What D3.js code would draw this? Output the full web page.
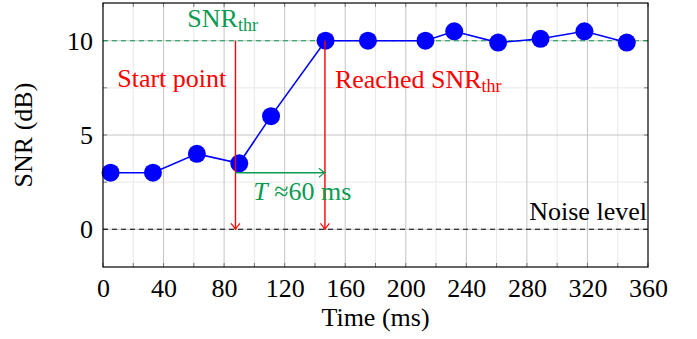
<!DOCTYPE html>
<html>
<head>
<meta charset="utf-8">
<script src="https://cdn.jsdelivr.net/npm/d3@7"></script>
<style>
  body { margin: 0; background: #fff; }
  svg text { font-family: "Liberation Serif", "Times New Roman", serif !important; }
</style>
</head>
<body>
<div id="chart"></div>
<script>
// measured samples
const times = [5, 33, 62, 90, 111, 147, 175, 213, 232, 261, 289, 318, 346];
const snr   = [3, 3, 4, 3.5, 6, 10, 10, 10, 10.5, 9.9, 10.1, 10.5, 9.9];

const xTicks = [0, 40, 80, 120, 160, 200, 240, 280, 320, 360];
const yTicks = [0, 5, 10];
const xMinor = d3.range(20, 360, 40);
const yMinor = [2.5, 7.5];

const threshold = 10;
const noise = 0;
const startT = 87.5;   // start point
const reachT = 146.6;  // reached threshold
const arrowY = 3;      // level of the T arrow

const width  = 697;
const height = 339;
const margin = { top: 3, right: 49, bottom: 72, left: 103 };
const iw = width - margin.left - margin.right;
const ih = height - margin.top - margin.bottom;

const green = '#0a9a50';
const fs = 26;
const serif = '"Liberation Serif", "Times New Roman", serif';

let svg = d3.select('#chart')
    .append('svg')
        .attr('width', width)
        .attr('height', height)
    .append('g')
        .attr('transform', 'translate(' + margin.left + ',' + margin.top + ')');

let defs = svg.append('defs');
function arrowMarker(id, color) {
    defs.append('marker')
        .attr('id', id)
        .attr('viewBox', '-7 -6 8 12')
        .attr('refX', 0).attr('refY', 0)
        .attr('markerWidth', 8).attr('markerHeight', 12)
        .attr('markerUnits', 'userSpaceOnUse')
        .attr('orient', 'auto')
      .append('path')
        .attr('d', 'M-6,-4.5 Q-2,-1 0,0 Q-2,1 -6,4.5')
        .attr('fill', 'none')
        .attr('stroke', color)
        .attr('stroke-width', 1.2);
}
arrowMarker('arrRed', 'red');
arrowMarker('arrGreen', green);

let xScale = d3.scaleLinear().domain([0, 360]).range([0, iw]);
let yScale = d3.scaleLinear().domain([-2, 12]).range([ih, 0]);

// grid
svg.append('g').selectAll('line.xminor')
    .data(xMinor).enter().append('line')
    .attr('x1', d => xScale(d)).attr('x2', d => xScale(d))
    .attr('y1', 0).attr('y2', ih)
    .attr('stroke', '#e8e8e8');
svg.append('g').selectAll('line.yminor')
    .data(yMinor).enter().append('line')
    .attr('y1', d => yScale(d)).attr('y2', d => yScale(d))
    .attr('x1', 0).attr('x2', iw)
    .attr('stroke', '#e8e8e8');
svg.append('g').selectAll('line.xmajor')
    .data(xTicks.slice(1, -1)).enter().append('line')
    .attr('x1', d => xScale(d)).attr('x2', d => xScale(d))
    .attr('y1', 0).attr('y2', ih)
    .attr('stroke', '#c4c4c4');
svg.append('g').selectAll('line.ymajor')
    .data(yTicks).enter().append('line')
    .attr('y1', d => yScale(d)).attr('y2', d => yScale(d))
    .attr('x1', 0).attr('x2', iw)
    .attr('stroke', '#c4c4c4');

// inner ticks on all four sides
const tk = 4;
let ticksG = svg.append('g').attr('stroke', '#777');
xTicks.concat(xMinor).forEach(function (d) {
    ticksG.append('line').attr('x1', xScale(d)).attr('x2', xScale(d)).attr('y1', ih).attr('y2', ih - tk);
    ticksG.append('line').attr('x1', xScale(d)).attr('x2', xScale(d)).attr('y1', 0).attr('y2', tk);
});
yTicks.concat(yMinor).forEach(function (d) {
    ticksG.append('line').attr('y1', yScale(d)).attr('y2', yScale(d)).attr('x1', 0).attr('x2', tk);
    ticksG.append('line').attr('y1', yScale(d)).attr('y2', yScale(d)).attr('x1', iw).attr('x2', iw - tk);
});

// axes labels
let xAxis = d3.axisBottom(xScale).tickValues(xTicks).tickSize(0).tickPadding(12);
svg.append('g')
    .attr('class', 'x axis')
    .attr('transform', 'translate(0,' + ih + ')')
    .attr('font-family', serif)
    .call(xAxis)
    .call(g => g.select('.domain').remove())
    .selectAll('text')
        .attr('font-size', fs)
        .attr('fill', '#000');

let yAxis = d3.axisLeft(yScale).tickValues(yTicks).tickSize(0).tickPadding(10);
svg.append('g')
    .attr('class', 'y axis')
    .attr('font-family', serif)
    .call(yAxis)
    .call(g => g.select('.domain').remove())
    .selectAll('text')
        .attr('font-size', fs)
        .attr('fill', '#000');

svg.append('text')
    .attr('x', iw / 2).attr('y', ih + 59)
    .attr('text-anchor', 'middle')
    .attr('font-family', serif)
    .attr('font-size', fs)
    .text('Time (ms)');

svg.append('text')
    .attr('transform', 'translate(' + (-71) + ',' + (ih / 2) + ') rotate(-90)')
    .attr('text-anchor', 'middle')
    .attr('font-family', serif)
    .attr('font-size', fs)
    .text('SNR (dB)');

// reference lines
svg.append('line')
    .attr('x1', 0).attr('x2', iw)
    .attr('y1', yScale(threshold)).attr('y2', yScale(threshold))
    .attr('stroke', green).attr('stroke-width', 1.1)
    .attr('stroke-dasharray', '5,4');
svg.append('line')
    .attr('x1', 0).attr('x2', iw)
    .attr('y1', yScale(noise)).attr('y2', yScale(noise))
    .attr('stroke', '#000').attr('stroke-width', 1.1)
    .attr('stroke-dasharray', '5,4');

// data line + markers
let line = d3.line()
    .x((d, i) => xScale(times[i]))
    .y(d => yScale(d));
svg.append('path')
    .datum(snr)
    .attr('d', line)
    .attr('fill', 'none')
    .attr('stroke', '#0000ff')
    .attr('stroke-width', 1.6);

svg.selectAll('circle.pt')
    .data(snr)
    .enter()
    .append('circle')
        .attr('cx', (d, i) => xScale(times[i]))
        .attr('cy', d => yScale(d))
        .attr('r', 9)
        .attr('fill', '#0000ff');

// arrows
[startT, reachT].forEach(function (t) {
    svg.append('line')
        .attr('x1', xScale(t)).attr('x2', xScale(t))
        .attr('y1', yScale(threshold)).attr('y2', yScale(noise))
        .attr('stroke', 'red').attr('stroke-width', 1.4)
        .attr('marker-end', 'url(#arrRed)');
});
svg.append('line')
    .attr('x1', xScale(startT)).attr('x2', xScale(reachT))
    .attr('y1', yScale(arrowY)).attr('y2', yScale(arrowY))
    .attr('stroke', green).attr('stroke-width', 1.4)
    .attr('marker-end', 'url(#arrGreen)');

// frame
svg.append('rect')
    .attr('width', iw).attr('height', ih)
    .attr('fill', 'none')
    .attr('stroke', '#000').attr('stroke-width', 1.2);

// annotations
function subLabel(t, v, main, sub, color, anchor) {
    let tx = svg.append('text')
        .attr('x', xScale(t)).attr('y', yScale(v))
        .attr('font-family', serif)
        .attr('font-size', fs)
        .attr('fill', color)
        .attr('text-anchor', anchor || 'start');
    tx.append('tspan').text(main);
    if (sub) tx.append('tspan').attr('font-size', 18).attr('dy', 4).text(sub);
    return tx;
}
subLabel(55.7, 10.72, 'SNR', 'thr', green);
subLabel(9.4, 7.53, 'Start point', null, 'red');
subLabel(153.2, 7.48, 'Reached SNR', 'thr', 'red');
subLabel(359.3, 0.49, 'Noise level', null, '#000', 'end');

let tl = svg.append('text')
    .attr('x', xScale(99.3)).attr('y', yScale(1.55))
    .attr('font-family', serif)
    .attr('font-size', fs)
    .attr('fill', green);
tl.append('tspan').attr('font-style', 'italic').text('T');
tl.append('tspan').text(' \u224860 ms');
</script>
</body>
</html>
